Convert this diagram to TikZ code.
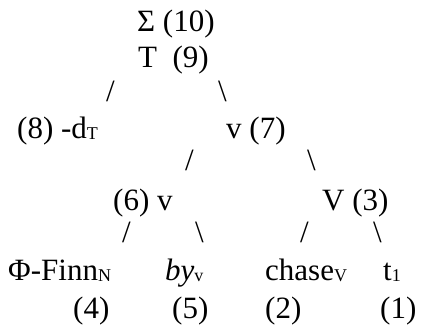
\documentclass[tikz,border=0pt]{standalone}
\usepackage{fontspec}
\setmainfont{Liberation Serif}
\usepackage{tikz}
\usetikzlibrary{positioning}
\newcommand{\lowtag}[1]{\raisebox{-1pt}{\fontsize{18}{18}\selectfont #1}}
\tikzstyle{word} = [anchor=base west, inner sep=0pt, font=\fontsize{31}{36}\selectfont]
\tikzstyle{branch} = [anchor=base west, inner sep=0pt, font=\fontsize{31}{36}\selectfont]

\begin{document}
\begin{tikzpicture}[x=1pt, y=-1pt]
\useasboundingbox (0,0) rectangle (422,326);
% top of the tree
\node (sigma) [word] at (137,32) {Σ (10)};
\node (tense) [word] at (138,68) {T\ \ (9)};
\node (tl) [branch] at (106,102) {/};
\node (tr) [branch] at (218,102) {\textbackslash};
% second level
\node (affix) [word] at (17,138) {(8) -d\lowtag{T}};
\node (vhigh) [word] at (226,138) {v (7)};
\node (vl) [branch] at (185,170) {/};
\node (vr) [branch] at (307,170) {\textbackslash};
% third level
\node (vlow) [word] at (113,210) {(6) v};
\node (verb) [word] at (322,210) {V (3)};
\node (sl1) [branch] at (122,242) {/};
\node (sr1) [branch] at (195,242) {\textbackslash};
\node (sl2) [branch] at (300,242) {/};
\node (sr2) [branch] at (373,242) {\textbackslash};
% leaves
\node (finn) [word] at (8,280) {Φ-Finn\lowtag{N}};
\node (by) [word] at (165,280) {\textit{by}\lowtag{v}};
\node (chase) [word] at (265,280) {chase\lowtag{V}};
\node (trace) [word] at (383,280) {t\lowtag{1}};
\node (n4) [word] at (73,318) {(4)};
\node (n5) [word] at (172,318) {(5)};
\node (n2) [word] at (265,318) {(2)};
\node (n1) [word] at (380,318) {(1)};
\end{tikzpicture}
\end{document}
